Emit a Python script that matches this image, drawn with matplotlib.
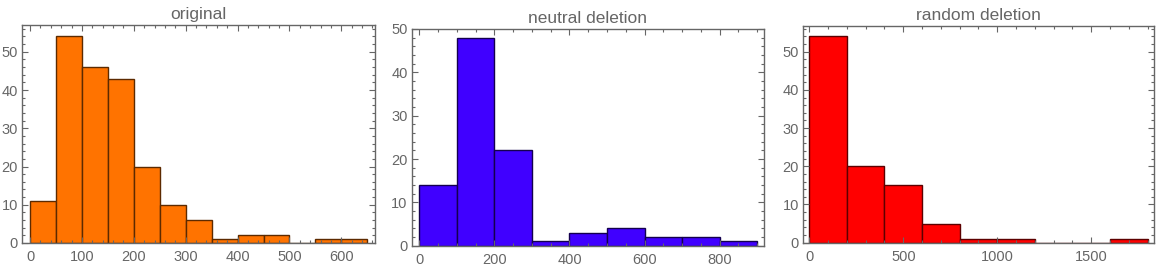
import numpy as np
import matplotlib.pyplot as plt
from matplotlib.ticker import MultipleLocator

# bin edges and counts
orig_edges = [0, 50, 100, 150, 200, 250, 300, 350, 400, 450, 500, 550, 600, 650]
orig_counts = [11, 54, 46, 43, 20, 10, 6, 1, 2, 2, 0, 1, 1]

neutral_edges = [0, 100, 200, 300, 400, 500, 600, 700, 800, 900]
neutral_counts = [14, 48, 22, 1, 3, 4, 2, 2, 1]

random_edges = [0, 200, 400, 600, 800, 1000, 1200, 1400, 1600, 1800]
random_counts = [54, 20, 15, 5, 1, 1, 0, 0, 1]

titles = ["original", "neutral deletion", "random deletion"]
colors = ["#ff7300", "#4000ff", "#ff0000"]
edgecolors = ["#5c2a00", "#14004f", "#5c0000"]

plt.rcParams['font.family'] = ['Liberation Sans', 'DejaVu Sans']
gray = "#666666"

fig = plt.figure(figsize=(11.67, 2.73), dpi=100)
boxes = [
    [0.0189, 0.1099, 0.3025, 0.7985],
    [0.3528, 0.1000, 0.3019, 0.7938],
    [0.6883, 0.1110, 0.3008, 0.7949],
]
xlims = [(-15.4, 665), (-20, 918), (-32, 1835)]
ylims = [(0, 57), (0, 50), (0, 56.8)]
xmajor = [100, 200, 500]
xminor = [20, 50, 100]

data = [(orig_edges, orig_counts), (neutral_edges, neutral_counts), (random_edges, random_counts)]

for i, (edges, counts) in enumerate(data):
    ax = fig.add_axes(boxes[i])
    edges = np.array(edges)
    ax.bar(edges[:-1], counts, width=np.diff(edges), align='edge',
           color=colors[i], edgecolor=edgecolors[i], linewidth=1.0)
    ax.set_xlim(*xlims[i])
    ax.set_ylim(*ylims[i])
    ax.xaxis.set_major_locator(MultipleLocator(xmajor[i]))
    ax.xaxis.set_minor_locator(MultipleLocator(xminor[i]))
    ax.yaxis.set_major_locator(MultipleLocator(10))
    ax.yaxis.set_minor_locator(MultipleLocator(2))
    ax.tick_params(which='both', direction='in', top=True, right=True,
                   color=gray, width=0.8, labelcolor=gray, labelsize=10.5)
    ax.tick_params(which='major', length=4)
    ax.tick_params(axis='x', which='major', pad=5)
    ax.tick_params(axis='y', which='major', pad=3)
    ax.tick_params(which='minor', length=2.2)
    for s in ax.spines.values():
        s.set_color(gray)
        s.set_linewidth(1.0)
    ax.set_title(titles[i], color=gray, fontsize=12.5, pad=4)

fig.savefig("out.png", dpi=100)
